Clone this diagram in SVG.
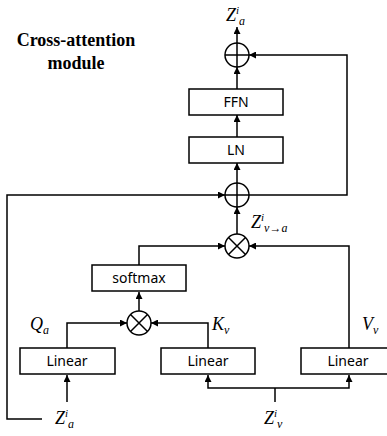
<svg xmlns="http://www.w3.org/2000/svg" width="387" height="436" viewBox="0 0 387 436">
<style>
.box{fill:#fff;stroke:#000;stroke-width:1.5}
.op{fill:#fff;stroke:#000;stroke-width:1.5}
.ln{fill:none;stroke:#000;stroke-width:1.5}
.lbl{font-family:"Noto Sans","Liberation Sans",sans-serif;font-size:14px;text-anchor:middle;fill:#000}
.m{font-family:"Liberation Serif","DejaVu Serif",serif;font-style:italic;fill:#000}
.title{font-family:"Liberation Serif","Times New Roman",serif;font-weight:bold;font-size:18px;text-anchor:middle;fill:#000}
</style>
<defs>
<marker id="ah" viewBox="0 0 10 10" refX="10" refY="5" markerWidth="7" markerHeight="7" markerUnits="userSpaceOnUse" orient="auto">
<path d="M0,0 L10,5 L0,10 z" fill="#000"/>
</marker>
</defs>
<rect width="387" height="436" fill="#fff"/>
<text class="title" x="76" y="46">Cross-attention</text>
<text class="title" x="76" y="69">module</text>
<g id="connectors">
<line class="ln" x1="237" y1="43" x2="237" y2="27" marker-end="url(#ah)"/>
<line class="ln" x1="237" y1="89" x2="237" y2="67" marker-end="url(#ah)"/>
<line class="ln" x1="237" y1="137" x2="237" y2="115" marker-end="url(#ah)"/>
<line class="ln" x1="237" y1="183" x2="237" y2="163" marker-end="url(#ah)"/>
<polyline class="ln" points="237,195 347,195 347,55 249,55" marker-end="url(#ah)"/>
<polyline class="ln" points="42,419 7,419 7,195 225,195" marker-end="url(#ah)"/>
<line class="ln" x1="237" y1="234" x2="237" y2="207" marker-end="url(#ah)"/>
<polyline class="ln" points="139,265 139,246 225,246" marker-end="url(#ah)"/>
<polyline class="ln" points="349,348 349,246 249,246" marker-end="url(#ah)"/>
<line class="ln" x1="139" y1="311" x2="139" y2="292" marker-end="url(#ah)"/>
<polyline class="ln" points="67,348 67,323 127,323" marker-end="url(#ah)"/>
<polyline class="ln" points="208,348 208,323 151,323" marker-end="url(#ah)"/>
<line class="ln" x1="67" y1="402" x2="67" y2="375" marker-end="url(#ah)"/>
<line class="ln" x1="275" y1="402" x2="275" y2="388"/>
<polyline class="ln" points="275,388 208,388 208,375" marker-end="url(#ah)"/>
<polyline class="ln" points="275,388 349,388 349,375" marker-end="url(#ah)"/>
</g>
<g id="add_top">
<circle class="op" cx="237" cy="55" r="12"/>
<path class="ln" d="M225,55 H249 M237,43 V67"/>
</g>
<g id="ffn">
<rect class="box" x="189" y="89" width="94" height="26"/>
<text class="lbl" x="236" y="107">FFN</text>
</g>
<g id="ln">
<rect class="box" x="189" y="137" width="94" height="26"/>
<text class="lbl" x="236" y="155">LN</text>
</g>
<g id="add_bottom">
<circle class="op" cx="237" cy="195" r="12"/>
<path class="ln" d="M225,195 H249 M237,183 V207"/>
</g>
<g id="mul_top">
<circle class="op" cx="237" cy="246" r="12"/>
<path class="ln" d="M228.5,237.5 L245.5,254.5 M245.5,237.5 L228.5,254.5"/>
</g>
<g id="softmax">
<rect class="box" x="92" y="265" width="94" height="26"/>
<text class="lbl" x="139" y="283">softmax</text>
</g>
<g id="mul_bottom">
<circle class="op" cx="139" cy="323" r="12"/>
<path class="ln" d="M130.5,314.5 L147.5,331.5 M147.5,314.5 L130.5,331.5"/>
</g>
<g id="linear_q">
<rect class="box" x="20" y="348" width="95" height="26"/>
<text class="lbl" x="67" y="366">Linear</text>
</g>
<g id="linear_k">
<rect class="box" x="161" y="348" width="94" height="26"/>
<text class="lbl" x="208" y="366">Linear</text>
</g>
<g id="linear_v">
<rect class="box" x="301" y="348" width="94" height="26"/>
<text class="lbl" x="348" y="366">Linear</text>
</g>
<g id="labels">
<text class="m" x="226" y="21" font-size="18">Z<tspan font-size="11" dy="-7">i</tspan><tspan font-size="12" dy="11">a</tspan></text>
<text class="m" x="251" y="228" font-size="18">Z<tspan font-size="11" dy="-7">i</tspan><tspan font-size="12" dy="11">v→a</tspan></text>
<text class="m" x="30" y="330" font-size="18">Q<tspan font-size="12" dy="4">a</tspan></text>
<text class="m" x="212" y="330" font-size="18">K<tspan font-size="12" dy="4">v</tspan></text>
<text class="m" x="362" y="330" font-size="18">V<tspan font-size="12" dy="4">v</tspan></text>
<text class="m" x="55" y="424" font-size="18">Z<tspan font-size="11" dy="-7">i</tspan><tspan font-size="12" dy="11">a</tspan></text>
<text class="m" x="264" y="424" font-size="18">Z<tspan font-size="11" dy="-7">i</tspan><tspan font-size="12" dy="11">v</tspan></text>
</g>
</svg>
